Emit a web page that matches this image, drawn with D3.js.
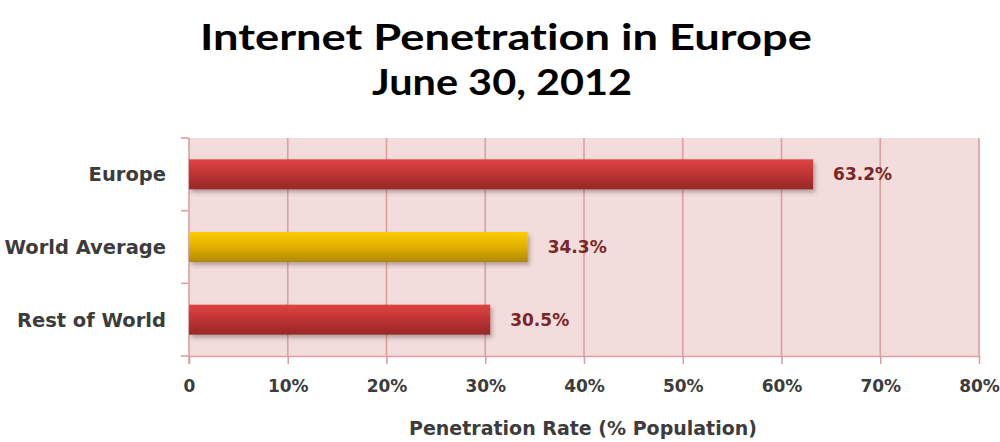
<!DOCTYPE html>
<html>
<head>
<meta charset="utf-8">
<script src="https://cdn.jsdelivr.net/npm/d3@7"></script>
<style>
  html, body { margin: 0; padding: 0; background: #ffffff; }
  svg { display: block; }
  text { font-variant-ligatures: none; }
</style>
</head>
<body>
<svg id="chart" width="1000" height="442"></svg>
<script>
// Internet penetration, June 30, 2012
const categories = ["Europe", "World Average", "Rest of World"];
const values = [63.2, 34.3, 30.5];
const valueLabels = ["63.2%", "34.3%", "30.5%"];
const barKinds = ["red", "gold", "red"];
const tickValues = [0, 10, 20, 30, 40, 50, 60, 70, 80];
const tickLabels = ["0", "10%", "20%", "30%", "40%", "50%", "60%", "70%", "80%"];
const titleLines = ["Internet Penetration in Europe", "June 30, 2012"];
const axisTitle = "Penetration Rate (% Population)";

const svg = d3.select("#chart");
const plot = { left: 189, right: 979, top: 138, bottom: 356 };
const labelFont = "'DejaVu Sans', Verdana, sans-serif";
const titleFont = "Lato, 'Open Sans', sans-serif";

const x = d3.scaleLinear().domain([0, 80]).range([plot.left, plot.right]);
const y = d3.scaleBand().domain(categories).range([plot.top, plot.bottom])
  .paddingInner(0.587).paddingOuter(0.2935);

const defs = svg.append("defs");
const gradRed = defs.append("linearGradient").attr("id", "g-red")
  .attr("x1", 0).attr("y1", 0).attr("x2", 0).attr("y2", 1);
gradRed.append("stop").attr("offset", "0%").attr("stop-color", "#de4444");
gradRed.append("stop").attr("offset", "45%").attr("stop-color", "#c23434");
gradRed.append("stop").attr("offset", "100%").attr("stop-color", "#962828");
const gradGold = defs.append("linearGradient").attr("id", "g-gold")
  .attr("x1", 0).attr("y1", 0).attr("x2", 0).attr("y2", 1);
gradGold.append("stop").attr("offset", "0%").attr("stop-color", "#ffcc00");
gradGold.append("stop").attr("offset", "50%").attr("stop-color", "#e0b000");
gradGold.append("stop").attr("offset", "100%").attr("stop-color", "#b08800");
const shadow = defs.append("filter").attr("id", "shadow")
  .attr("x", "-5%").attr("y", "-20%").attr("width", "115%").attr("height", "160%");
shadow.append("feDropShadow").attr("dx", 2).attr("dy", 3).attr("stdDeviation", 2)
  .attr("flood-color", "#6a5050").attr("flood-opacity", 0.45);

// plot background
svg.append("rect")
  .attr("x", plot.left).attr("y", plot.top)
  .attr("width", plot.right - plot.left).attr("height", plot.bottom - plot.top)
  .attr("fill", "#f2dcdc");

// vertical gridlines
svg.append("g").selectAll("line").data(tickValues.slice(1)).join("line")
  .attr("x1", d => x(d)).attr("x2", d => x(d))
  .attr("y1", plot.top).attr("y2", plot.bottom)
  .attr("stroke", "#dca0a0").attr("stroke-width", 1.6);

// x axis
const xAxis = svg.append("g").attr("transform", `translate(0,${plot.bottom})`)
  .call(d3.axisBottom(x).tickValues(tickValues).tickFormat((d, i) => tickLabels[i])
    .tickSize(8).tickSizeOuter(0).tickPadding(16));
xAxis.select(".domain").attr("stroke", "#dca0a0").attr("stroke-width", 1.6);
xAxis.selectAll(".tick line").attr("stroke", "#dca0a0").attr("stroke-width", 1.6);
xAxis.selectAll(".tick text")
  .attr("fill", "#3c3c3c").attr("font-family", labelFont).attr("font-weight", "bold")
  .attr("font-size", 17);

// y axis (ticks at band boundaries)
const yAxisG = svg.append("g");
yAxisG.append("line").attr("x1", plot.left).attr("x2", plot.left)
  .attr("y1", plot.top).attr("y2", plot.bottom + 8)
  .attr("stroke", "#dca0a0").attr("stroke-width", 1.6);
const bounds = d3.range(categories.length + 1).map(i => plot.top + i * y.step());
yAxisG.selectAll("line.tk").data(bounds).join("line").attr("class", "tk")
  .attr("x1", plot.left - 8).attr("x2", plot.left)
  .attr("y1", d => d).attr("y2", d => d)
  .attr("stroke", "#dca0a0").attr("stroke-width", 1.6);
yAxisG.selectAll("text").data(categories).join("text")
  .attr("x", 166).attr("y", d => y(d) + y.bandwidth() / 2)
  .attr("dy", "0.36em").attr("text-anchor", "end")
  .attr("font-family", labelFont).attr("font-weight", "bold")
  .attr("font-size", 19.5).attr("fill", "#3c3c3c")
  .text(d => d);

// bars
svg.append("g").selectAll("rect").data(categories).join("rect")
  .attr("x", x(0)).attr("y", d => y(d))
  .attr("width", (d, i) => x(values[i]) - x(0))
  .attr("height", y.bandwidth())
  .attr("fill", (d, i) => barKinds[i] === "gold" ? "url(#g-gold)" : "url(#g-red)")
  .attr("filter", "url(#shadow)");

// value labels
svg.append("g").selectAll("text").data(categories).join("text")
  .attr("x", (d, i) => x(values[i]) + 20)
  .attr("y", d => y(d) + y.bandwidth() / 2)
  .attr("dy", "0.36em")
  .attr("font-family", labelFont).attr("font-weight", "bold").attr("font-size", 17)
  .attr("fill", "#7a2626")
  .text((d, i) => valueLabels[i]);

// titles
svg.append("text").attr("x", 506).attr("y", 50).attr("text-anchor", "middle")
  .attr("font-family", titleFont).attr("font-weight", "bold")
  .attr("font-size", 37).attr("fill", "#000")
  .attr("textLength", 612).attr("lengthAdjust", "spacingAndGlyphs")
  .text(titleLines[0]);
svg.append("text").attr("x", 502).attr("y", 95).attr("text-anchor", "middle")
  .attr("font-family", titleFont).attr("font-weight", "bold")
  .attr("font-size", 37).attr("fill", "#000")
  .attr("textLength", 260).attr("lengthAdjust", "spacingAndGlyphs")
  .text(titleLines[1]);

svg.append("text").attr("x", 583).attr("y", 435).attr("text-anchor", "middle")
  .attr("font-family", labelFont).attr("font-weight", "bold").attr("font-size", 19)
  .attr("fill", "#3c3c3c")
  .text(axisTitle);
</script>
</body>
</html>
